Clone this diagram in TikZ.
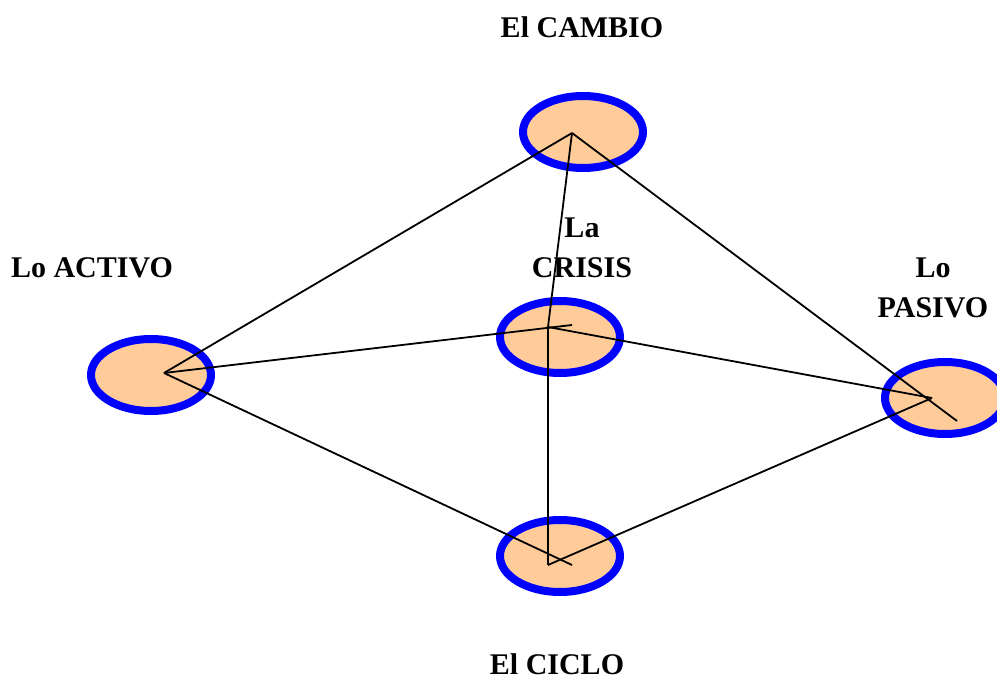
\documentclass[tikz,border=0pt]{standalone}
\usepackage{fontspec}
\setmainfont{Liberation Serif}
\usetikzlibrary{shapes.geometric}
\definecolor{peach}{RGB}{255,204,153}
\begin{document}
\begin{tikzpicture}[x=1pt,y=-1pt,
  blob/.style={ellipse, draw=blue, fill=peach, line width=8pt,
    minimum width=120pt, minimum height=72pt, inner sep=0pt},
  link/.style={black, line width=1.8pt},
  label/.style={font=\fontsize{30}{40}\selectfont\bfseries, align=center, inner sep=0pt}]
\useasboundingbox (0,0) rectangle (997,679);

% the five states
\node[blob] (cambio) at (583,132) {};
\node[blob] (crisis) at (560,337) {};
\node[blob] (activo) at (151,375) {};
\node[blob] (pasivo) at (945,398) {};
\node[blob] (ciclo)  at (560,556) {};

% meeting points of the links inside each state
\coordinate (pC)  at (572,133);
\coordinate (pK1) at (548,327);
\coordinate (pK2) at (572,325);
\coordinate (pA)  at (164,373);
\coordinate (pP1) at (932,398);
\coordinate (pP2) at (957,421);
\coordinate (pL1) at (548,565);
\coordinate (pL2) at (572,565);

% links
\draw[link] (pA) -- (pC);
\draw[link] (pC) -- (pP2);
\draw[link] (pC) -- (pK1);
\draw[link] (pA) -- (pK2);
\draw[link] (pK1) -- (pP1);
\draw[link] (pK1) -- (pL1);
\draw[link] (pA) -- (pL2);
\draw[link] (pL1) -- (pP1);

% names (base of a two-line name is its last line)
\node[label, anchor=base] (tcambio) at (582,38) {El CAMBIO};
\node[label, anchor=base] (tcrisis) at (582,278) {La\\CRISIS};
\node[label, anchor=base] (tactivo) at (92,278) {Lo ACTIVO};
\node[label, anchor=base] (tpasivo) at (933,318) {Lo\\PASIVO};
\node[label, anchor=base] (tciclo)  at (557,674) {El CICLO};
\end{tikzpicture}
\end{document}
